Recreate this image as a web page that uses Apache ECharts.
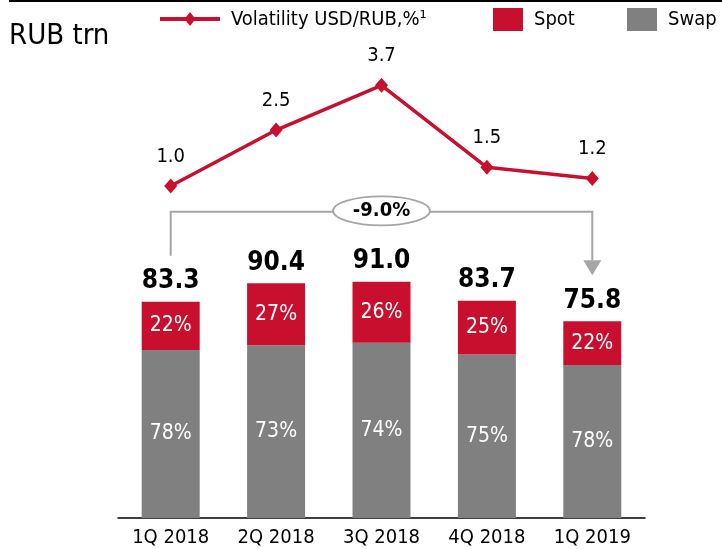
<!DOCTYPE html>
<html>
<head>
<meta charset="utf-8">
<script src="https://cdn.jsdelivr.net/npm/echarts@6/dist/echarts.min.js"></script>
<style>
html,body{margin:0;padding:0;background:#fff;}
#chart{width:722px;height:549px;}
</style>
</head>
<body>
<div id="chart"></div>
<script>
// ---- data ----
var categories = ['1Q 2018', '2Q 2018', '3Q 2018', '4Q 2018', '1Q 2019'];
var totals = [83.3, 90.4, 91.0, 83.7, 75.8];
var spotValues = [18.6, 23.9, 23.5, 20.7, 16.9];
var swapValues = [64.7, 66.5, 67.5, 63.0, 58.9];
var spotShare = ['22%', '27%', '26%', '25%', '22%'];
var swapShare = ['78%', '73%', '74%', '75%', '78%'];
var volatility = [1.0, 2.5, 3.7, 1.5, 1.2];
var changeLabel = '-9.0%';
var unitLabel = 'RUB trn';
var volName = 'Volatility USD/RUB,%\u00B9';

// ---- styles ----
var FONT = "'DejaVu Sans Condensed', 'DejaVu Sans', sans-serif";
var RED = '#C8102E';
var GRAY = '#808080';
var BRACKET = '#A6A6A6';

var chart = echarts.init(document.getElementById('chart'), null, {renderer: 'canvas'});

var legendText = {fontFamily: FONT, fontSize: 20, color: '#000', padding: [0, 0, 0, 6]};

var option = {
  animation: false,
  title: {
    text: unitLabel, left: 4, top: 17,
    textStyle: {fontFamily: FONT, fontSize: 29, fontWeight: 'normal', color: '#000'}
  },
  legend: [
    {data: [{name: volName, icon: 'rect', itemStyle: {color: 'rgba(0,0,0,0)', opacity: 0}}], left: 155, top: 3, itemWidth: 60, itemHeight: 23, textStyle: legendText, selectedMode: false},
    {data: [{name: 'Spot', icon: 'rect'}], left: 488, top: 3, itemWidth: 30, itemHeight: 23, textStyle: legendText, selectedMode: false},
    {data: [{name: 'Swap', icon: 'rect'}], left: 622, top: 3, itemWidth: 30, itemHeight: 23, textStyle: legendText, selectedMode: false}
  ],
  grid: {left: 118, right: 77, top: 40, bottom: 31},
  xAxis: {
    type: 'category', data: categories,
    axisLine: {lineStyle: {color: '#000', width: 1.5}},
    axisTick: {show: false},
    axisLabel: {fontFamily: FONT, fontSize: 20, color: '#000', margin: 10}
  },
  yAxis: [
    {type: 'value', min: 0, max: 184.06, show: false, splitLine: {show: false}},
    {type: 'value', min: -7.901, max: 4.914, show: false, splitLine: {show: false}}
  ],
  series: [
    {
      name: 'Swap', type: 'bar', stack: 'vol', barWidth: 58, barGap: '-100%',
      data: swapValues, itemStyle: {color: GRAY},
      label: {show: true, position: 'inside', fontFamily: FONT, fontSize: 21, color: '#fff',
        formatter: function (p) { return swapShare[p.dataIndex]; }}
    },
    {
      name: 'Spot', type: 'bar', stack: 'vol', barWidth: 58, barGap: '-100%',
      data: spotValues, itemStyle: {color: RED},
      label: {show: true, position: 'inside', fontFamily: FONT, fontSize: 21, color: '#fff',
        formatter: function (p) { return spotShare[p.dataIndex]; }}
    },
    {
      name: 'Total', type: 'bar', barWidth: 58, barGap: '-100%', z: 1,
      data: totals, itemStyle: {color: 'rgba(0,0,0,0)'}, silent: true,
      label: {show: true, position: 'top', distance: 7, fontFamily: FONT, fontSize: 26, fontWeight: 'bold', color: '#000', lineHeight: 26,
        formatter: function (p) { return totals[p.dataIndex].toFixed(1); }}
    },
    {
      name: volName, type: 'line', yAxisIndex: 1, data: volatility,
      lineStyle: {color: RED, width: 3.5}, itemStyle: {color: RED},
      symbol: 'diamond', symbolSize: [13, 15],
      label: {show: true, position: 'top', distance: 12, fontFamily: FONT, fontSize: 20, color: '#000', lineHeight: 20,
        formatter: function (p) { return p.value.toFixed(1); }}
    }
  ]
};
chart.setOption(option);

function px(idx, val) { return chart.convertToPixel({xAxisIndex: 0, yAxisIndex: 0}, [idx, val]); }

var bracketTop = 117.9, leftEnd = 101.0, arrowTip = 93.5;
var pL = px(0, leftEnd), pT = px(0, bracketTop), pR = px(categories.length - 1, bracketTop), pA = px(categories.length - 1, arrowTip);
var lx = pL[0], rx = pR[0], ty = pT[1], ly = pL[1], ay = pA[1];
var cx = (lx + rx) / 2;
var arrowH = 15, arrowW = 9;

chart.setOption({
  graphic: [
    {type: 'line', shape: {x1: 9, y1: 1, x2: 722, y2: 1}, style: {stroke: '#000', lineWidth: 2}},
    {type: 'line', shape: {x1: 160, y1: 19, x2: 220, y2: 19}, style: {stroke: RED, lineWidth: 4}},
    {type: 'polygon', shape: {points: [[190, 12], [195.5, 19], [190, 26], [184.5, 19]]}, style: {fill: RED}},
    {type: 'polyline', shape: {points: [[lx, ly], [lx, ty], [rx, ty], [rx, ay - arrowH]]}, style: {stroke: BRACKET, lineWidth: 2, fill: null}},
    {type: 'polygon', shape: {points: [[rx - arrowW, ay - arrowH], [rx + arrowW, ay - arrowH], [rx, ay]]}, style: {fill: BRACKET}},
    {type: 'ellipse', shape: {cx: cx, cy: ty - 1, rx: 48.5, ry: 14.5}, style: {fill: '#fff', stroke: BRACKET, lineWidth: 1.8}, z: 10},
    {type: 'text', x: cx, y: ty - 1, z: 11, style: {text: changeLabel, font: 'bold 20px ' + FONT, fill: '#000', align: 'center', verticalAlign: 'middle'}}
  ]
});
</script>
</body>
</html>
